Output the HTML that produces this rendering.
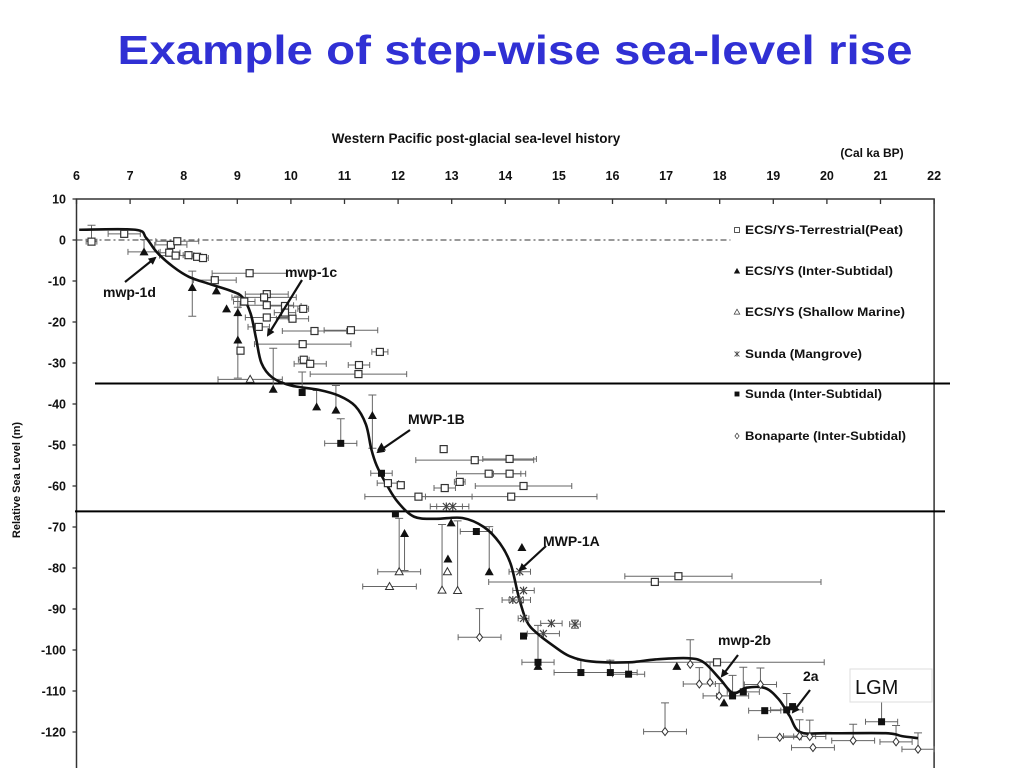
<!DOCTYPE html>
<html><head><meta charset="utf-8"><style>
body{margin:0;background:#fff;width:1024px;height:768px;overflow:hidden;font-family:"Liberation Sans",sans-serif}
</style></head><body>
<svg id="c" width="1024" height="768" viewBox="0 0 1024 768" xmlns="http://www.w3.org/2000/svg">
<text x="515" y="64" text-anchor="middle" font-size="41" font-weight="bold" fill="#3030d4" textLength="795" lengthAdjust="spacingAndGlyphs">Example of step-wise sea-level rise</text>
<text x="476" y="143" text-anchor="middle" font-size="13.5" font-weight="bold" fill="#111">Western Pacific post-glacial  sea-level history</text>
<text x="872" y="157" text-anchor="middle" font-size="12" font-weight="bold" fill="#111">(Cal ka BP)</text>
<text transform="translate(20,480) rotate(-90)" text-anchor="middle" font-size="11" font-weight="bold" fill="#111">Relative Sea Level (m)</text>
<g id="axes"></g><g id="marks"></g><g id="ann"></g>
</svg>
<script>
const xTicks=[6,7,8,9,10,11,12,13,14,15,16,17,18,19,20,21,22];
const yTicks=[10,0,-10,-20,-30,-40,-50,-60,-70,-80,-90,-100,-110,-120];
const curveAge=[6.05,7.1,7.3,7.5,7.8,8.1,8.5,8.9,9.1,9.25,9.35,9.45,9.65,10,10.5,10.9,11.2,11.4,11.5,11.6,11.8,12,12.3,12.7,13.2,13.6,13.9,14.1,14.25,14.4,14.6,14.9,15.2,15.6,16.3,16.8,17.4,17.7,18.0,18.25,18.5,18.85,19.1,19.3,19.5,20,21.1,21.4,21.7];
const curveLevel=[2.5,2.5,0.5,-3,-6.5,-9,-10.8,-12.5,-14,-18,-24,-30,-33.5,-35.5,-36.5,-38,-40.5,-45,-51,-55,-60,-64,-67.5,-68,-67.8,-70,-74,-79,-87,-93,-96,-99,-101.5,-102.8,-103,-102.3,-102,-103,-107,-110.5,-109.2,-109.3,-112,-116,-120,-120.3,-120.3,-121,-121.5];
// [age, level, xerr, yerrUp, yerrDown]
const peat=[[6.28,-0.4,0.1,4,0],[6.89,1.5,0.3,0,0],[7.76,-1.2,0.3,0,0],[7.88,-0.3,0.4,0,0],[7.73,-3.1,0.2,0,0],[7.85,-3.8,0.3,0,0],[8.09,-3.7,0.1,0,0],[8.25,-4.1,0.1,0,0],[8.36,-4.4,0.1,0,0],[8.58,-9.8,0.4,0,0],[9.23,-8.1,0.7,0,0],[9.55,-13.2,0.4,0,0],[9.5,-14,0.6,0,0],[9.55,-15.9,0.5,0,0],[9.55,-18.9,0.4,0,0],[9.89,-16.1,0.3,0,0],[9.89,-17.7,0.2,0,0],[10.03,-19.2,0.3,0,0],[10.23,-16.8,0.1,0,0],[10.44,-22.2,0.6,0,0],[11.12,-22,0.5,0,0],[10.22,-25.4,0.9,0,0],[10.24,-29.2,0.1,0,0],[10.36,-30.2,0.3,0,0],[11.66,-27.3,0.15,0,0],[11.27,-30.5,0.2,0,0],[11.26,-32.7,0.9,0,0],[9.13,-15,0.2,0,0],[9.4,-21.2,0.2,0,0],[9.06,-27,0,0,0],[12.85,-51,0,0,0],[13.43,-53.7,1.1,0,0],[14.08,-53.4,0.5,0,0],[13.69,-57,0.6,0,0],[14.08,-57,0.3,0,0],[14.34,-60,0.9,0,0],[14.11,-62.6,1.6,0,0],[12.38,-62.6,1.0,0,0],[12.05,-59.8,0,0,0],[11.81,-59.3,0.2,0,0],[12.87,-60.5,0.2,0,0],[13.15,-59,0.1,0,0],[17.23,-82,1.0,0,0],[16.79,-83.4,3.1,0,0],[17.95,-103,2.0,0,0]];
const interTri=[[7.26,-2.9,0.3,3,0],[8.16,-11.6,0,4,7],[8.61,-12.4,0,0,0],[8.8,-16.8,0,0,0],[9.01,-17.7,0,4,16],[9.01,-24.4,0,8,0],[9.67,-36.4,0,10,0],[10.48,-40.7,0,4,0],[10.84,-41.5,0,6,0],[11.52,-42.8,0,5,8],[11.69,-50.5,0,0,0],[12.12,-71.6,0,0,9],[12.93,-77.8,0,0,0],[12.99,-69,0,0,0],[13.7,-80.9,0,11,0],[14.31,-75,0,0,0],[14.61,-104,0,10,0],[17.2,-104,0,0,0],[18.08,-112.9,0,0,0]];
const shallowTri=[[12.02,-80.9,0.4,13,0],[11.84,-84.5,0.5,0,0],[12.82,-85.4,0,16,0],[12.92,-80.9,0,0,0],[13.11,-85.5,0,17,0],[9.24,-34,0.6,0,0]];
const mangrove=[[14.27,-80.9,0.2,0,0],[14.34,-85.5,0.2,0,0],[14.14,-87.8,0.2,0,0],[14.27,-87.8,0.2,0,0],[14.34,-92.3,0.1,0,0],[14.86,-93.5,0.2,0,0],[15.3,-93.7,0.1,1,1],[14.71,-96,0.3,0,0],[13.02,-65,0.3,0,0],[12.9,-65,0.3,0,0]];
const sundaInter=[[10.93,-49.6,0.3,6,0],[10.21,-37.2,0,5,0],[11.69,-56.9,0.2,0,0],[11.95,-66.8,0,0,0],[13.46,-71.1,0.3,0,0],[14.34,-96.6,0,0,0],[14.61,-103,0.3,0,0],[15.41,-105.5,0.5,3,0],[15.96,-105.5,0.5,3,0],[16.3,-105.9,0.3,3,0],[18.24,-111.2,0.3,5,0],[18.44,-110.2,0.3,6,0],[18.84,-114.8,0.3,0,0],[19.25,-114.6,0.3,4,0],[21.02,-117.5,0.3,5,0],[19.36,-113.8,0,0,0]];
const bonaparte=[[13.52,-96.9,0.4,7,0],[16.98,-119.9,0.4,7,0],[17.45,-103.5,0,6,0],[17.62,-108.3,0.3,4,0],[17.82,-107.9,0,5,0],[17.99,-111.2,0.3,3,0],[18.76,-108.4,0.3,4,0],[19.12,-121.3,0.4,0,0],[19.49,-121,0.3,4,0],[19.68,-121.1,0.3,4,0],[19.74,-123.8,0.4,0,0],[20.49,-122.1,0.4,4,0],[21.29,-122.4,0.3,4,0],[21.7,-124.2,0.3,4,0]];

const NS="http://www.w3.org/2000/svg";
const X0=76.5,XS=53.6,Y0=240,YS=4.1;
function xs(a){return X0+(a-6)*XS}
function ys(v){return Y0-v*YS}
function mk(tag,at,parent){const e=document.createElementNS(NS,tag);for(const k in at)e.setAttribute(k,at[k]);parent.appendChild(e);return e}
const axes=document.getElementById('axes'),marks=document.getElementById('marks'),ann=document.getElementById('ann');

let f=mk('path',{d:`M${xs(6)},800V${ys(10)}H${xs(22)}V800`,fill:'none',stroke:'#333','stroke-width':1.5},axes);


xTicks.forEach(t=>{
  const l=mk('line',{x1:xs(t),x2:xs(t),y1:ys(10),y2:ys(10)+5,stroke:'#333','stroke-width':1.3},axes);
  
  
  const tx=mk('text',{x:xs(t),y:180,'text-anchor':'middle','font-size':12.5,'font-weight':'bold',fill:'#111'},axes);
  tx.textContent=t;
  
  
});
yTicks.forEach(t=>{
  const l=mk('line',{x1:xs(6)-4,x2:xs(6),y1:ys(t),y2:ys(t),stroke:'#333','stroke-width':1.3},axes);
  
  
  const tx=mk('text',{x:66,y:ys(t)+4.5,'text-anchor':'end','font-size':12.5,'font-weight':'bold',fill:'#111'},axes);
  tx.textContent=t;
  
  
});
let z=mk('line',{x1:xs(6),x2:xs(18.2),y1:ys(0),y2:ys(0),stroke:'#333','stroke-width':1,'stroke-dasharray':'6,3,2,3'},axes);


let h1=mk('line',{x1:95,x2:950,y1:ys(-35),y2:ys(-35),stroke:'#000','stroke-width':2},axes);


let h2=mk('line',{x1:75,x2:945,y1:ys(-66.2),y2:ys(-66.2),stroke:'#000','stroke-width':2},axes);



function errbars(p){
  const x=xs(p[0]),y=ys(p[1]),g=mk('g',{stroke:'#666','stroke-width':1,fill:'none'},marks);
  
  
  if(p[2]>0){const a=xs(p[0]-p[2]),b=xs(p[0]+p[2]);mk('path',{d:`M${a},${y}H${b}M${a},${y-3}V${y+3}M${b},${y-3}V${y+3}`},g)}
  if(p[3]>0){const t=ys(p[1]+p[3]);mk('path',{d:`M${x},${y}V${t}M${x-4},${t}H${x+4}`},g)}
  if(p[4]>0){const t=ys(p[1]-p[4]);mk('path',{d:`M${x},${y}V${t}M${x-4},${t}H${x+4}`},g)}
}
function marker(type,x,y,parent){
  let e;
  if(type==='sq')e=mk('rect',{x:x-3.5,y:y-3.5,width:7,height:7,fill:'#fff',stroke:'#333','stroke-width':1.2},parent);
  else if(type==='tri')e=mk('path',{d:`M${x},${y-4.5}L${x+4.5},${y+3.5}H${x-4.5}Z`,fill:'#111'},parent);
  else if(type==='otri')e=mk('path',{d:`M${x},${y-4}L${x+4},${y+3}H${x-4}Z`,fill:'#fff',stroke:'#333','stroke-width':1},parent);
  else if(type==='x')e=mk('path',{d:`M${x-3.5},${y-3.5}L${x+3.5},${y+3.5}M${x+3.5},${y-3.5}L${x-3.5},${y+3.5}M${x},${y-4}V${y+4}`,stroke:'#444','stroke-width':1.2},parent);
  else if(type==='fsq')e=mk('rect',{x:x-3.5,y:y-3.5,width:7,height:7,fill:'#111'},parent);
  else e=mk('path',{d:`M${x},${y-4}L${x+3},${y}L${x},${y+4}L${x-3},${y}Z`,fill:'#fff',stroke:'#333','stroke-width':1},parent);
  return e;
}
const series=[[peat,'sq','peat-point'],[interTri,'tri','ecs-intertidal-point'],[shallowTri,'otri','ecs-shallow-marine-point'],[mangrove,'x','sunda-mangrove-point'],[sundaInter,'fsq','sunda-intertidal-point'],[bonaparte,'dia','bonaparte-point']];
series.forEach(s=>s[0].forEach(p=>errbars(p)));

const pts=curveAge.map((a,i)=>[xs(a),ys(curveLevel[i])]);
let d=`M${pts[0][0]},${pts[0][1]}`;
for(let i=0;i<pts.length-1;i++){
  const p0=pts[Math.max(0,i-1)],p1=pts[i],p2=pts[i+1],p3=pts[Math.min(pts.length-1,i+2)];
  d+=`C${p1[0]+(p2[0]-p0[0])/6},${p1[1]+(p2[1]-p0[1])/6} ${p2[0]-(p3[0]-p1[0])/6},${p2[1]-(p3[1]-p1[1])/6} ${p2[0]},${p2[1]}`;
}
let cv=mk('path',{d:d,fill:'none',stroke:'#111','stroke-width':2.6,'stroke-linejoin':'round'},marks);



series.forEach(s=>s[0].forEach(p=>{
  const e=marker(s[1],xs(p[0]),ys(p[1]),marks);
  
  
}));

const legendLabels=['ECS/YS-Terrestrial(Peat)','ECS/YS (Inter-Subtidal)','ECS/YS (Shallow Marine)','Sunda (Mangrove)','Sunda (Inter-Subtidal)','Bonaparte (Inter-Subtidal)'];
const legendY=[230,271,312,354,394,436];
const legendW=[158,148,160,117,137,161];
legendLabels.forEach((lab,i)=>{
  const g=mk('g',{},ann);
  
  
  const e=marker(series[i][1],737,legendY[i],g);
  e.setAttribute('transform',`translate(${737*0.3},${legendY[i]*0.3}) scale(0.7)`);
  const t=mk('text',{x:745,y:legendY[i]+4,'font-size':11.5,'font-weight':'bold',fill:'#111',textLength:legendW[i],lengthAdjust:'spacingAndGlyphs'},g);
  t.textContent=lab;
});

const labels=[['mwp-1d',103,297,125,282,155,258],['mwp-1c',285,277,302,280,268,335],['MWP-1B',408,424,410,430,378,452],['MWP-1A',543,546,546,546,520,570],['mwp-2b',718,645,738,655,722,676],['2a',803,681,810,690,793,712]];
mk('defs',{},ann).innerHTML='<marker id="ah" markerWidth="8" markerHeight="8" refX="6" refY="4" orient="auto" markerUnits="userSpaceOnUse"><path d="M0,0L8,4L0,8Z" fill="#111"/></marker>';
labels.forEach(l=>{
  const g=mk('g',{},ann);
  
  
  const t=mk('text',{x:l[1],y:l[2],'font-size':14,'font-weight':'bold',fill:'#111'},g);
  t.textContent=l[0];
  mk('line',{x1:l[3],y1:l[4],x2:l[5],y2:l[6],stroke:'#111','stroke-width':2.2,'marker-end':'url(#ah)'},g);
});
const lg=mk('g',{},ann);


mk('rect',{x:850,y:669,width:82,height:33,fill:'#fff',stroke:'#ddd'},lg);
const lt=mk('text',{x:855,y:694,'font-size':20,fill:'#111'},lg);
lt.textContent='LGM';
</script>
</body></html>
